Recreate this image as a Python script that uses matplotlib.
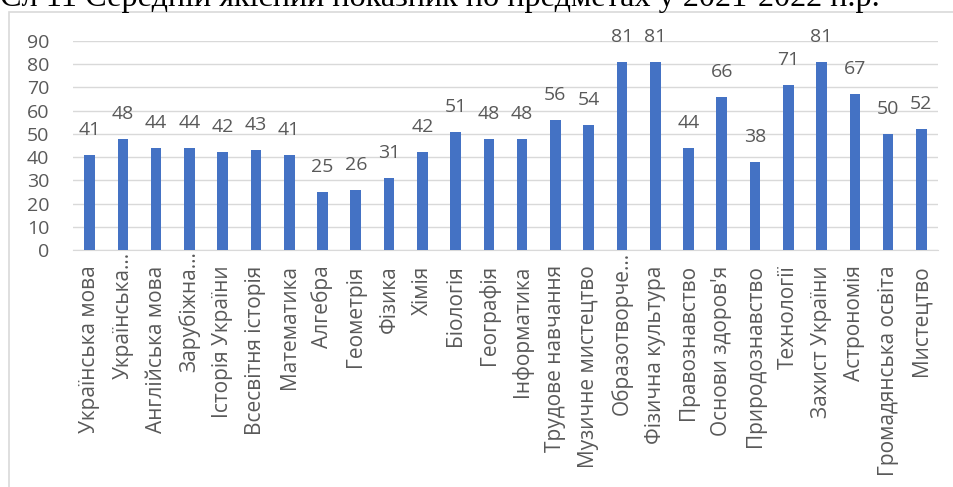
import matplotlib
matplotlib.use("Agg")
import matplotlib.pyplot as plt
import matplotlib.transforms as mtransforms
from matplotlib.patches import Rectangle

plt.rcParams["font.family"] = ["Open Sans", "DejaVu Sans"]

SUBJECTS = [
    "Українська мова", "Українська…", "Англійська мова", "Зарубіжна…",
    "Історія України", "Всесвітня історія", "Математика", "Алгебра",
    "Геометрія", "Фізика", "Хімія", "Біологія", "Географія", "Інформатика",
    "Трудове навчання", "Музичне мистецтво", "Образотворче…",
    "Фізична культура", "Правознавство", "Основи здоров'я",
    "Природознавство", "Технології", "Захист України", "Астрономія",
    "Громадянська освіта", "Мистецтво",
]
VALUES = [41, 48, 44, 44, 42, 43, 41, 25, 26, 31, 42, 51, 48, 48, 56, 54,
          81, 81, 44, 66, 38, 71, 81, 67, 50, 52]
Y_TICKS = list(range(0, 91, 10))

TITLE = "Сл 11 Середній якісний показник по предметах у 2021-2022 н.р."

BAR_COLOR = "#4472C4"
TEXT_COLOR = "#595959"
GRID_COLOR = "#D9D9D9"


def main() -> None:
    fig = plt.figure(figsize=(9.54, 4.87), dpi=100)
    ax = fig.add_axes([73 / 954, 1 - 250 / 487, (938 - 73) / 954, (250 - 41) / 487])

    x = range(len(SUBJECTS))
    bars = ax.bar(x, VALUES, width=0.32, color=BAR_COLOR, zorder=3)

    for rect, value in zip(bars, VALUES):
        ax.annotate(
            f"{value}",
            (rect.get_x() + rect.get_width() / 2, rect.get_height()),
            xytext=(0, 18),
            textcoords="offset points",
            ha="center",
            va="center",
            fontsize=14,
            color=TEXT_COLOR,
        )

    ax.set_xlim(-0.5, len(SUBJECTS) - 0.5)
    ax.set_ylim(0, 90)
    ax.set_yticks(Y_TICKS)
    ax.set_xticks(list(x))
    ax.set_xticklabels(SUBJECTS, rotation=90, ha="center", va="top")
    ax.tick_params(axis="x", length=0, pad=11, labelsize=15, labelcolor=TEXT_COLOR)
    ax.tick_params(axis="y", length=0, pad=17, labelsize=14, labelcolor=TEXT_COLOR)

    # truncated labels sit a little closer to the axis
    shift = mtransforms.ScaledTranslation(0, 10 / 72, fig.dpi_scale_trans)
    for label in ax.get_xticklabels():
        if label.get_text().endswith("…"):
            label.set_transform(label.get_transform() + shift)

    ax.grid(axis="y", color=GRID_COLOR, linewidth=1, zorder=0)
    for side in ("top", "right", "left"):
        ax.spines[side].set_visible(False)
    ax.spines["bottom"].set_color(GRID_COLOR)

    # chart area border (cut off on the right and bottom)
    fig.add_artist(Rectangle(
        (9 / 954, -0.1), 1.2, 1.1 - 12 / 487,
        transform=fig.transFigure, fill=False, edgecolor=GRID_COLOR,
        linewidth=1.2, clip_on=False,
    ))

    fig.text(0.0, 1 - 6 / 487, TITLE, family="Liberation Serif", fontsize=23.2,
             color="black", ha="left", va="baseline")

    fig.savefig("out.png", dpi=100)
    plt.close(fig)


if __name__ == "__main__":
    main()
